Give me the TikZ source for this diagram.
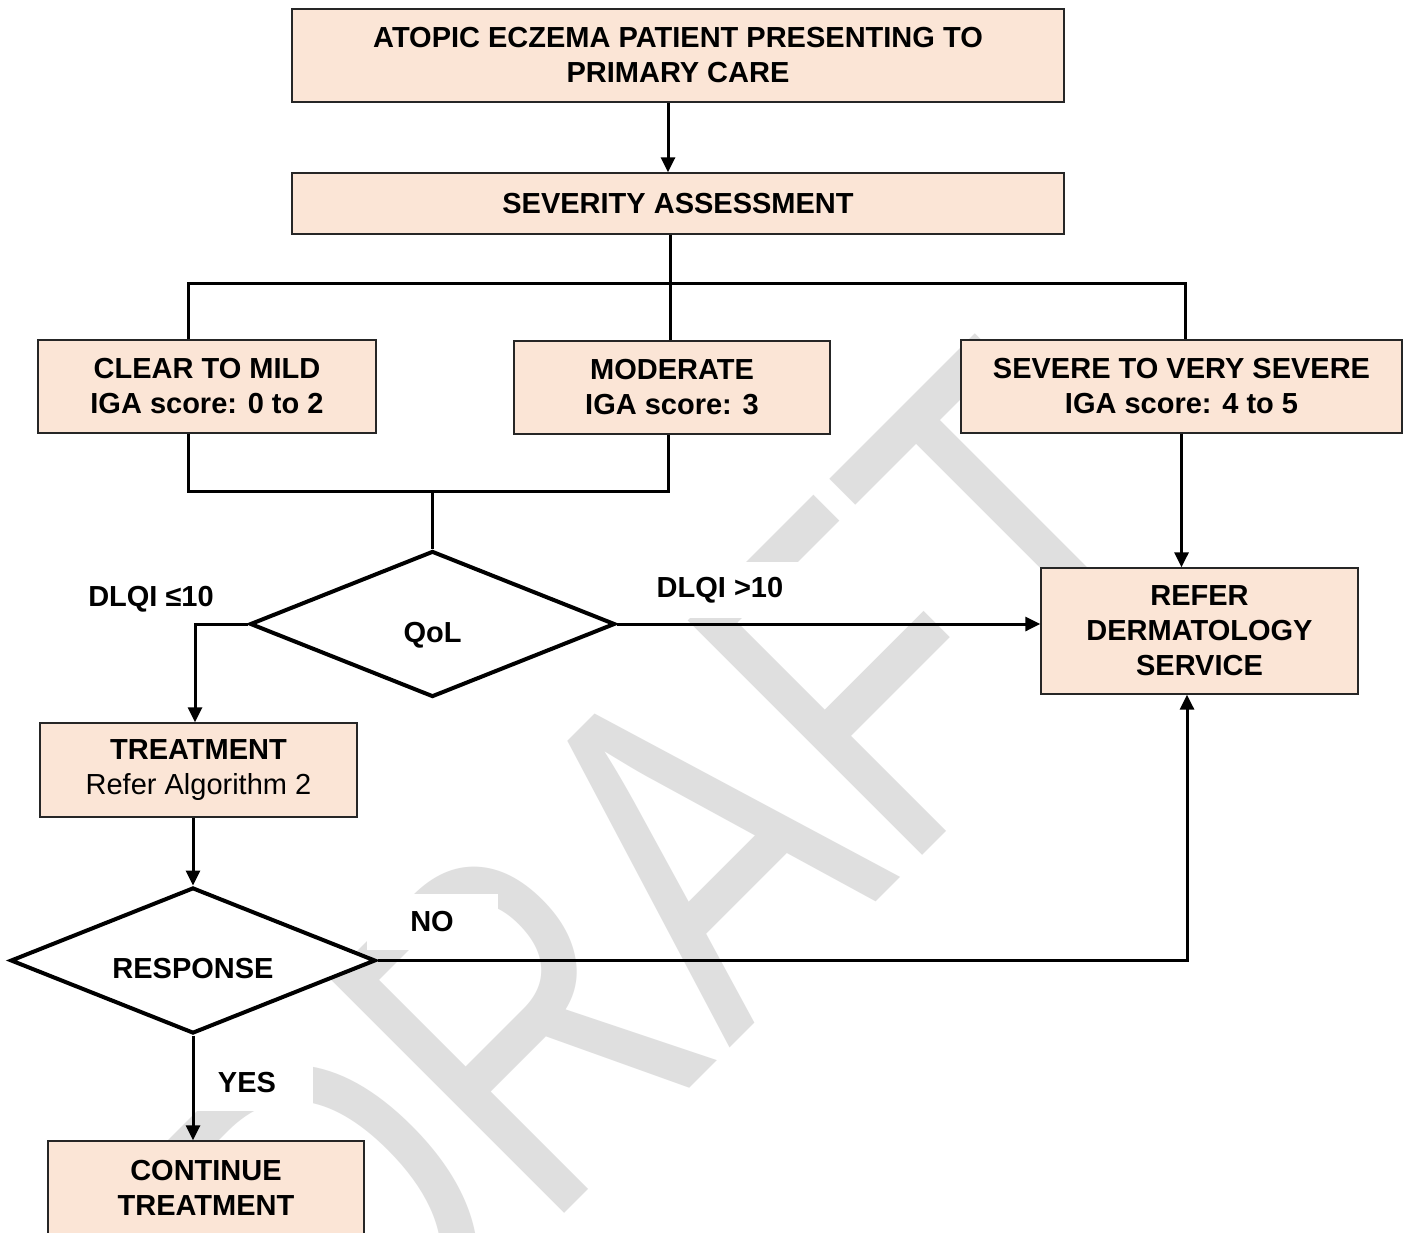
\documentclass[tikz,border=0pt]{standalone}
\usepackage{fontspec}
\setmainfont{Liberation Sans}
\newfontfamily\wmfont[FakeStretch=0.755]{Liberation Sans}
\usetikzlibrary{shapes.geometric,arrows.meta}
\definecolor{boxfill}{HTML}{FBE5D6}
\definecolor{wmgray}{HTML}{DFDFDF}
\begin{document}
\begin{tikzpicture}[x=1pt,y=-1pt,
  txt/.style={font=\bfseries\fontsize{29}{35}\selectfont},
  box/.style={txt, draw=black!85, line width=1.3pt, fill=boxfill, align=center, inner sep=0pt},
  dec/.style={txt, diamond, draw=black, line width=4pt, fill=white, aspect=2.5,
              minimum width=365pt, minimum height=146pt, inner sep=0pt,
              text height=36pt, text depth=0pt},
  lbl/.style={txt, fill=white, inner sep=0pt, minimum height=56pt, minimum width=131pt},
  conn/.style={line width=3pt, draw=black},
  arr/.style={conn, -{Triangle[length=15pt,width=14pt]}},
]
\useasboundingbox[fill=white] (0,0) rectangle (1408,1233);

% watermark
\node[text=wmgray, font=\wmfont\fontsize{482}{482}\selectfont, rotate=45, anchor=base, inner sep=0pt] (wm) at (787,991) {DRAFT};

% edge labels
\node[lbl, minimum width=170pt] (l1) at (151,599) {DLQI ≤10};
\node[lbl, minimum width=170pt] (l2) at (720,590) {DLQI >10};
\node[lbl] (lno) at (432,922) {NO};
\node[lbl] (lyes) at (247,1083) {YES};

% boxes
\node[box, minimum width=772pt, minimum height=93pt] (b1) at (678,55.5) {ATOPIC ECZEMA PATIENT PRESENTING TO\\PRIMARY CARE};
\node[box, minimum width=772pt, minimum height=61pt] (b2) at (678,203.5) {SEVERITY ASSESSMENT};
\node[box, minimum width=338pt, minimum height=93pt] (clear) at (207,386.5) {CLEAR TO MILD\\IGA score: 0 to 2};
\node[box, minimum width=316pt, minimum height=93pt] (mod) at (672,387.5) {MODERATE\\IGA score: 3};
\node[box, minimum width=441pt, minimum height=93pt] (sev) at (1181.5,386.5) {SEVERE TO VERY SEVERE\\IGA score: 4 to 5};
\node[box, minimum width=317pt, minimum height=126pt] (refer) at (1199.5,631) {REFER\\DERMATOLOGY\\SERVICE};
\node[box, minimum width=317pt, minimum height=94pt] (treat) at (198.5,770) {TREATMENT\\\mdseries Refer Algorithm 2};
\node[box, minimum width=316pt, minimum height=94pt] (cont) at (206,1188) {CONTINUE\\TREATMENT};

% decisions
\node[dec] (qol) at (432.5,624) {QoL};
\node[dec] (resp) at (193,960.5) {RESPONSE};

% connectors
\coordinate (a1) at (668,0);
\coordinate (jl) at (188,284);
\coordinate (jc) at (670,284);
\coordinate (jr) at (1185,284);
\coordinate (ml) at (188,491);
\coordinate (mr) at (668,491);
\coordinate (mm) at (432.5,491);
\coordinate (lc) at (195,624);
\coordinate (nc) at (1187,960.5);

\draw[arr] (b1.south -| a1) -- (b2.north -| a1);
\draw[conn] (b2.south -| jc) -- (jc);
\draw[conn] (clear.north -| jl) |- (jr) -- (sev.north -| jr);
\draw[conn] (mod.north -| jc) -- (jc);
\draw[conn] (clear.south -| ml) -- (ml) -- (mr) -- (mod.south -| mr);
\draw[conn] (mm) -- (qol.north);
\draw[arr] (qol.west) -- (lc) -- (treat.north -| lc);
\draw[arr] (qol.east) -- (qol.east -| refer.west);
\draw[arr] (sev.south) -- (sev.south |- refer.north);
\draw[arr] (treat.south -| resp.north) -- (resp.north);
\draw[arr] (resp.east) -- (nc) -- (refer.south -| nc);
\draw[arr] (resp.south) -- (cont.north -| resp.south);
\end{tikzpicture}
\end{document}
